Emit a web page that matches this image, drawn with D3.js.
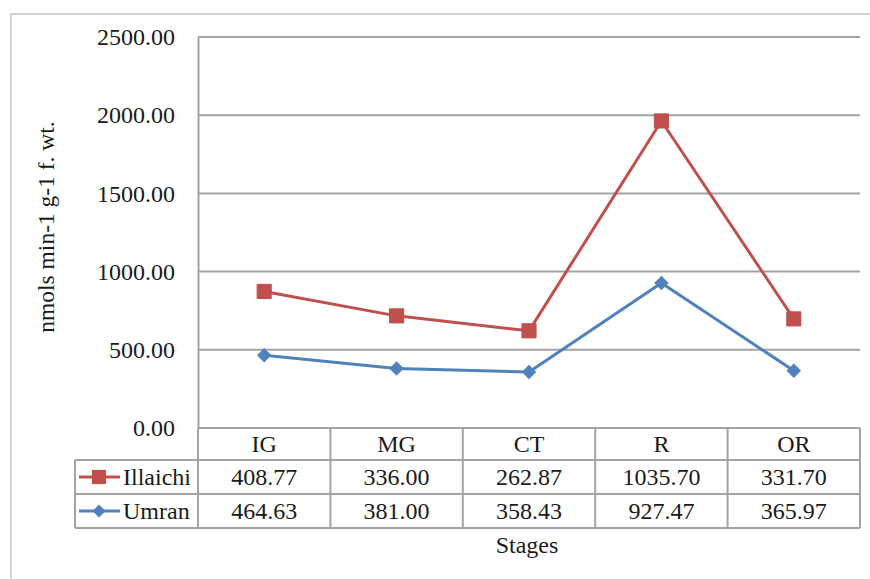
<!DOCTYPE html>
<html>
<head>
<meta charset="utf-8">
<script src="https://cdn.jsdelivr.net/npm/d3@7"></script>
</head>
<body style="margin:0;background:#fff">
<svg id="chart" width="870" height="579" style="display:block"></svg>
<script>
// ---- data ----
const stages = ["IG", "MG", "CT", "R", "OR"];
const illaichi = [408.77, 336.00, 262.87, 1035.70, 331.70];
const umran = [464.63, 381.00, 358.43, 927.47, 365.97];
const yTicks = [0, 500, 1000, 1500, 2000, 2500];
const seriesNames = ["Illaichi", "Umran"];
const yTitle = "nmols min-1 g-1 f. wt.";
const xTitle = "Stages";

// ---- layout ----
const W = 870, H = 579;
const plot = { left: 198, right: 860, top: 37, bottom: 428 };
const rowH = [32, 34, 34];
const legendLeft = 75;
const red = "#C0504D", blue = "#4F81BD";
const gridColor = "#a3a3a3";
const textColor = "#1a1a1a";
const fs = 24;

const svg = d3.select("#chart");

const T = sel => sel.style("font-family", '"Liberation Serif"').attr("fill", textColor);

// outer border (chart area)
svg.append("rect").attr("x", 11).attr("y", 14).attr("width", W + 10).attr("height", H + 10)
  .attr("fill", "none").attr("stroke", "#d4d4d4").attr("stroke-width", 2);

const x = d3.scaleBand().domain(stages).range([plot.left, plot.right]);
const y = d3.scaleLinear().domain([0, 2500]).range([plot.bottom, plot.top]);

// gridlines
svg.append("g").selectAll("line").data(yTicks).join("line")
  .attr("x1", plot.left).attr("x2", plot.right)
  .attr("y1", d => y(d)).attr("y2", d => y(d))
  .attr("stroke", gridColor).attr("stroke-width", 2);

// y axis
const yAxis = d3.axisLeft(y).tickValues(yTicks).tickFormat(d3.format(".2f")).tickSize(0).tickPadding(23);
const yg = svg.append("g").attr("transform", `translate(${plot.left},0)`).call(yAxis)
  .attr("font-family", "Liberation Serif");
yg.select(".domain").attr("stroke", gridColor).attr("stroke-width", 2);
yg.selectAll("text").attr("font-size", fs).call(T);

// y title
svg.append("text").attr("transform", `translate(54,227) rotate(-90)`)
  .attr("text-anchor", "middle").attr("font-size", 23.5).call(T).text(yTitle);

// stacked data
const rows = stages.map((s, i) => ({ stage: s, Umran: umran[i], Illaichi: illaichi[i] }));
const stack = d3.stack().keys(["Umran", "Illaichi"])(rows);
const cx = d => x(d.data.stage) + x.bandwidth() / 2;
const line = d3.line().x(cx).y(d => y(d[1]));

const colorOf = { Umran: blue, Illaichi: red };
const markerSize = { Illaichi: 200, Umran: 85 };
const markerRot = { Illaichi: 0, Umran: 45 };
stack.forEach(layer => {
  const c = colorOf[layer.key];
  svg.append("path").datum(layer).attr("d", line)
    .attr("fill", "none").attr("stroke", c).attr("stroke-width", 3).attr("stroke-linejoin", "round");
  svg.append("g").selectAll("path").data(layer).join("path")
    .attr("d", d3.symbol().type(d3.symbolSquare).size(markerSize[layer.key]))
    .attr("transform", d => `translate(${cx(d)},${y(d[1])}) rotate(${markerRot[layer.key]})`)
    .attr("fill", c).attr("stroke", c).attr("stroke-width", 1);
});

// data table
const tTop = plot.bottom;
const rY = [tTop, tTop + rowH[0], tTop + rowH[0] + rowH[1], tTop + rowH[0] + rowH[1] + rowH[2]];
const tg = svg.append("g");
const tl = (x1, y1, x2, y2) => tg.append("line").attr("x1", x1).attr("y1", y1).attr("x2", x2).attr("y2", y2)
  .attr("stroke", gridColor).attr("stroke-width", 2);
tl(plot.left, rY[0], plot.right, rY[0]);
tl(legendLeft, rY[1], plot.right, rY[1]);
tl(legendLeft, rY[2], plot.right, rY[2]);
tl(legendLeft, rY[3], plot.right, rY[3]);
tl(legendLeft, rY[1], legendLeft, rY[3]);
stages.forEach(s => tl(x(s), rY[0], x(s), rY[3]));
tl(plot.right, rY[0], plot.right, rY[3]);

// header
tg.selectAll("text.h").data(stages).join("text").attr("class", "h")
  .attr("x", s => x(s) + x.bandwidth() / 2).attr("y", (rY[0] + rY[1]) / 2 + 8)
  .attr("text-anchor", "middle").attr("font-size", fs).call(T).text(s => s);

const seriesVals = { Illaichi: illaichi, Umran: umran };
seriesNames.forEach((name, r) => {
  const yc = (rY[r + 1] + rY[r + 2]) / 2;
  const vals = seriesVals[name];
  tg.selectAll(null).data(vals).join("text")
    .attr("x", (v, i) => x(stages[i]) + x.bandwidth() / 2).attr("y", yc + 8)
    .attr("text-anchor", "middle").attr("font-size", fs).call(T).text(v => d3.format(".2f")(v));
  const c = colorOf[name];
  tg.append("line").attr("x1", 79).attr("x2", 120).attr("y1", yc).attr("y2", yc)
    .attr("stroke", c).attr("stroke-width", 3);
  tg.append("path").attr("d", d3.symbol().type(d3.symbolSquare).size(markerSize[name]))
    .attr("transform", `translate(99,${yc}) rotate(${markerRot[name]})`).attr("fill", c);
  tg.append("text").attr("x", 123).attr("y", yc + 8).attr("font-size", fs).call(T).text(name);
});

// x title
svg.append("text").attr("x", 527).attr("y", 553).attr("text-anchor", "middle")
  .attr("font-size", fs).call(T).text(xTitle);
</script>
</body>
</html>
